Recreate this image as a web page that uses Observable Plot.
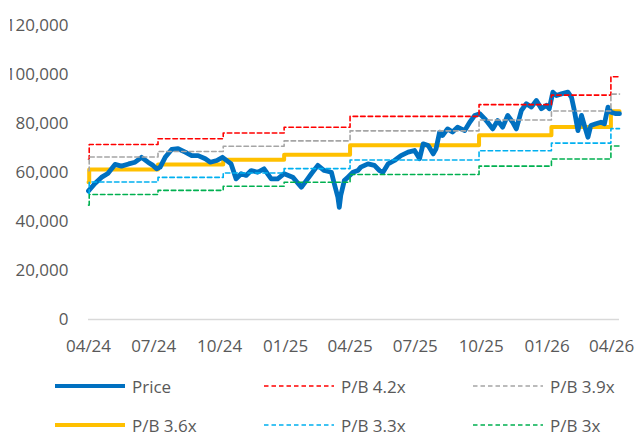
<!DOCTYPE html>
<html>
<head>
<meta charset="utf-8">
<script src="https://cdn.jsdelivr.net/npm/d3@7"></script>
<script src="https://cdn.jsdelivr.net/npm/@observablehq/plot@0.6"></script>
<style>
  html, body { margin: 0; padding: 0; background: #fff; }
  #wrap { position: relative; width: 638px; height: 435px; overflow: hidden; font-family: "Open Sans", sans-serif; color: #595959; }
  #cover { position: absolute; left: 0; top: 0; width: 10px; height: 110px; background: #fff; }
  #legend { position: absolute; left: 0; top: 359px; width: 638px; height: 76px; }
  .item { position: absolute; display: flex; align-items: center; font-size: 17px; color: #595959; white-space: nowrap; }
  .item svg { display: block; margin-right: 6px; }
</style>
</head>
<body>
<div id="wrap">
  <div id="chart"></div>
  <div id="cover"></div>
  <div id="legend"></div>
</div>
<script>
// ---- Data ----
const priceDates = [
  "2024-04-01","2024-04-10","2024-04-19","2024-04-28","2024-05-08","2024-05-17","2024-05-27","2024-06-05",
  "2024-06-14","2024-06-23","2024-06-30","2024-07-05","2024-07-10","2024-07-17","2024-07-26","2024-08-04",
  "2024-08-14","2024-08-23","2024-09-01","2024-09-11","2024-09-18","2024-09-27","2024-10-05","2024-10-17",
  "2024-10-24","2024-10-31","2024-11-07","2024-11-14","2024-11-23","2024-12-02","2024-12-12","2024-12-21",
  "2024-12-30","2025-01-11","2025-01-23","2025-01-30","2025-02-06","2025-02-15","2025-02-24","2025-03-06",
  "2025-03-10","2025-03-15","2025-03-17","2025-03-19","2025-03-24","2025-03-29","2025-04-05","2025-04-12",
  "2025-04-16","2025-04-26","2025-05-05","2025-05-12","2025-05-17","2025-05-24","2025-06-02","2025-06-11",
  "2025-06-21","2025-06-30","2025-07-07","2025-07-12","2025-07-19","2025-07-26","2025-07-30","2025-08-04",
  "2025-08-08","2025-08-15","2025-08-22","2025-08-29","2025-09-08","2025-09-15","2025-09-22","2025-09-29",
  "2025-10-06","2025-10-10","2025-10-17","2025-10-24","2025-10-31","2025-11-07","2025-11-14","2025-11-19",
  "2025-11-26","2025-12-03","2025-12-10","2025-12-17","2025-12-24","2025-12-31","2026-01-04","2026-01-09",
  "2026-01-14","2026-01-21","2026-01-30","2026-02-04","2026-02-08","2026-02-13","2026-02-18","2026-02-22",
  "2026-02-27","2026-03-03","2026-03-10","2026-03-17","2026-03-22","2026-03-27","2026-03-31","2026-04-07",
  "2026-04-12"
];
const priceValues = [
  52500,55500,58000,59600,63300,62600,63500,64200,
  66200,64200,62900,61500,62200,66200,69400,69700,
  68300,66900,66900,65600,64200,64900,66200,63500,
  57400,59500,58800,60800,60100,61500,57400,57400,
  59500,58100,54000,56700,59500,62900,60800,60100,
  55400,49900,45800,50600,56700,58100,60100,60800,
  62200,63500,62900,60800,60100,63500,64900,66900,
  68300,69000,65600,71700,71000,67600,69700,76500,
  75100,77800,76500,78500,77100,80500,83300,84000,
  81900,80500,77800,81200,78500,83300,80500,77800,
  85300,88100,86700,89400,86000,87400,86000,92800,
  91400,92100,92800,90700,85300,77100,83300,79200,
  74400,79200,79900,80500,79900,86700,84600,84000,
  84000
];

const bandDates = ["2024-04-01","2024-04-02","2024-07-07","2024-10-06","2024-12-30","2025-04-01","2025-09-28","2026-01-07","2026-03-31","2026-04-12"];
const pb42 = [65400,71400,73800,76100,78500,82900,87700,91600,99100,99100];
const pb39 = [60700,66300,68600,70700,72900,77000,81400,85100,92000,92000];
const pb36 = [56000,61200,63300,65200,67200,71100,75200,78600,85000,85000];
const pb33 = [51400,56100,58000,59800,61600,65100,68900,72000,77900,77900];
const pb30 = [46700,51000,52700,54400,56000,59200,62600,65500,70800,70800];

const xTicks = ["2024-04-01","2024-07-01","2024-10-01","2025-01-01","2025-04-01","2025-07-01","2025-10-01","2026-01-01","2026-04-01"];
const yTicks = [0,20000,40000,60000,80000,100000,120000];

const seriesNames = ["Price","P/B 4.2x","P/B 3.9x","P/B 3.6x","P/B 3.3x","P/B 3x"];
const seriesColors = ["#0070C0","#FF0000","#A5A5A5","#FFC000","#00B0F0","#00B050"];

// ---- Build tables ----
const parse = d3.utcParse("%Y-%m-%d");
const price = priceDates.map((d, i) => ({date: parse(d), value: priceValues[i]}));
const band = (arr) => bandDates.map((d, i) => ({date: parse(d), value: arr[i]}));

const dash = "4.5,3";
const chart = Plot.plot({
  width: 638,
  height: 359,
  marginLeft: 88,
  marginRight: 19,
  marginTop: 25,
  marginBottom: 40,
  style: {fontFamily: "'Open Sans', sans-serif", fontSize: "17px", color: "#595959", background: "#fff"},
  x: {type: "utc", domain: [parse("2024-04-01"), parse("2026-04-12")]},
  y: {domain: [0, 120000]},
  marks: [
    Plot.ruleY([0], {stroke: "#D9D9D9", strokeWidth: 1.5}),
    Plot.axisY({ticks: yTicks, tickSize: 0, tickPadding: 20, tickFormat: d3.format(","), label: null}),
    Plot.axisX({ticks: xTicks.map(parse), tickSize: 0, tickPadding: 20, tickFormat: d3.utcFormat("%m/%y"), label: null}),
    Plot.line(band(pb36), {x: "date", y: "value", curve: "step-after", stroke: seriesColors[3], strokeWidth: 4}),
    Plot.line(price, {x: "date", y: "value", stroke: seriesColors[0], strokeWidth: 4.8, strokeLinejoin: "round", strokeLinecap: "round"}),
    Plot.line(band(pb42), {x: "date", y: "value", curve: "step-after", stroke: seriesColors[1], strokeWidth: 1.6, strokeDasharray: dash}),
    Plot.line(band(pb39), {x: "date", y: "value", curve: "step-after", stroke: seriesColors[2], strokeWidth: 1.6, strokeDasharray: dash}),
    Plot.line(band(pb33), {x: "date", y: "value", curve: "step-after", stroke: seriesColors[4], strokeWidth: 1.6, strokeDasharray: dash}),
    Plot.line(band(pb30), {x: "date", y: "value", curve: "step-after", stroke: seriesColors[5], strokeWidth: 1.6, strokeDasharray: dash})
  ]
});
document.getElementById("chart").appendChild(chart);

// ---- Legend ----
const legendPos = [
  {left: 55, top: 27}, {left: 264, top: 27}, {left: 473, top: 27},
  {left: 55, top: 66}, {left: 264, top: 66}, {left: 473, top: 66}
];
const legendSolid = [true, false, false, true, false, false];
const legend = d3.select("#legend");
seriesNames.forEach((name, i) => {
  const item = legend.append("div").attr("class", "item")
    .style("left", legendPos[i].left + "px")
    .style("top", (legendPos[i].top - 12) + "px")
    .style("height", "24px");
  const s = item.append("svg").attr("width", 71).attr("height", 10);
  s.append("line").attr("x1", 0).attr("x2", 70).attr("y1", 5).attr("y2", 5)
    .attr("stroke", seriesColors[i])
    .attr("stroke-width", legendSolid[i] ? 4 : 1.6)
    .attr("stroke-dasharray", legendSolid[i] ? null : dash);
  item.append("span").text(name);
});
</script>
</body>
</html>
